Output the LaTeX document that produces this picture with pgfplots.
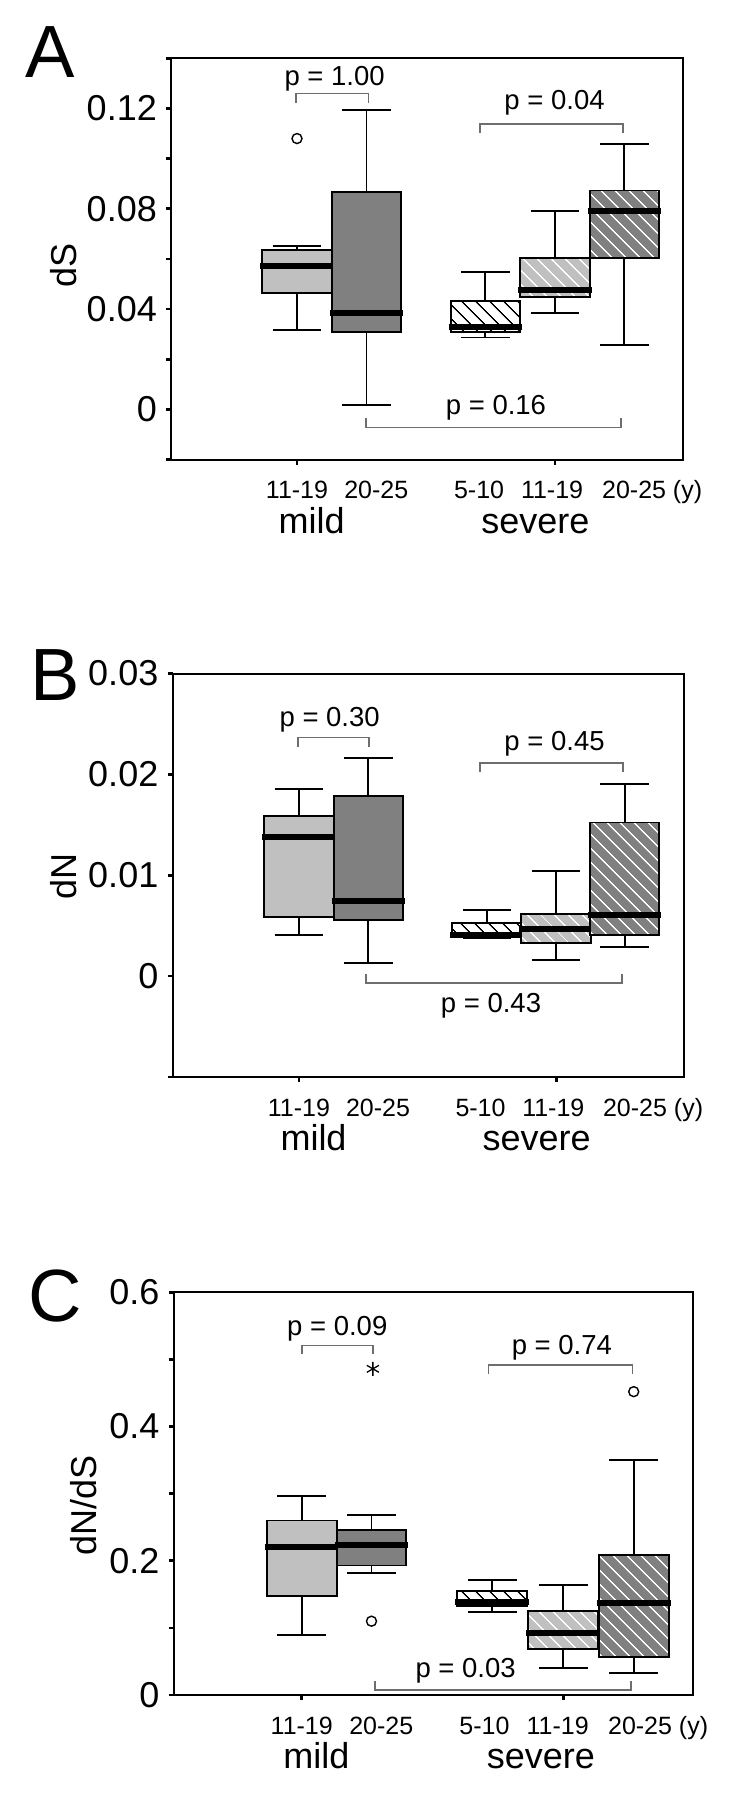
\documentclass[border=0pt]{standalone}
\usepackage{fontspec}
\setmainfont{Liberation Sans}
\usepackage{pgfplots}
\pgfplotsset{compat=1.18}
\usepgfplotslibrary{statistics}
\usetikzlibrary{patterns.meta}

\definecolor{lgray}{HTML}{C0C0C0}
\definecolor{dgray}{HTML}{808080}
\definecolor{brkgray}{HTML}{6E6E6E}

\newcommand\fs[1]{\fontsize{#1}{#1}\selectfont}

\pgfplotsset{
  panel/.style={
    scale only axis, anchor=south west, clip=false,
    axis line style={line width=2pt},
    tick align=outside, tick pos=left,
    major tick length=5pt,
    every tick/.style={black, line width=2.6pt},
    xticklabels={},
    scaled y ticks=false,
    yticklabel style={font=\fs{36}, inner sep=0pt, xshift=-9pt},
    boxplot/draw direction=y,
    boxplot/box extend=1,
    boxplot/whisker extend=0.7,
    boxplot/every median/.style={line width=6pt, shorten <=-2pt, shorten >=-2pt},
    boxplot/every whisker/.style={line width=1.9pt},
  },
  bx/.style={draw=black, line width=1.9pt, mark=*, mark size=5pt,
    mark options={fill=white, draw=black, line width=1.4pt},
    boxplot/every box/.style={fill=#1}},
  hx/.style 2 args={draw=black, line width=1.9pt, mark=*, mark size=5pt,
    mark options={fill=white, draw=black, line width=1.4pt},
    boxplot/every box/.style={fill=#1,
      postaction={pattern={Lines[angle=-45,distance=10.5pt,line width=1.5pt]}, pattern color=#2}}},
}

\tikzset{
  bracket/.style={draw=brkgray, line width=1.6pt},
  pl/.style={font=\fs{27.5}, anchor=base},
  xl/.style={font=\fs{25}, anchor=base, yshift=-39pt},
  gl/.style={font=\fs{36}, anchor=base, yshift=-73.5pt},
}

% group and age labels under an axis, #1 = ymin
\newcommand\grouplabels[1]{%
  \node[xl] at (axis cs:1,#1) {11-19};
  \node[xl] at (axis cs:2.14,#1) {20-25};
  \node[xl] at (axis cs:3.62,#1) {5-10};
  \node[xl] at (axis cs:4.67,#1) {11-19};
  \node[xl] at (axis cs:6.11,#1) {20-25 (y)};
  \node[gl] at (axis cs:1.21,#1) {mild};
  \node[gl] at (axis cs:4.43,#1) {severe};
}

\begin{document}
\begin{tikzpicture}
\useasboundingbox (0pt,0pt) rectangle (750pt,-1811pt);

% panel letters and axis titles
\node[font=\fs{74}, anchor=base west, inner sep=0pt] at (25pt,-78pt) {A};
\node[font=\fs{74}, anchor=base west, inner sep=0pt] at (30pt,-700pt) {B};
\node[font=\fs{74}, anchor=base west, inner sep=0pt] at (28pt,-1321pt) {C};
\node[font=\fs{36}, rotate=90, inner sep=0pt] at (64pt,-265pt) {dS};
\node[font=\fs{36}, rotate=90, inner sep=0pt] at (64pt,-876pt) {dN};
\node[font=\fs{36}, rotate=90, inner sep=0pt] at (84pt,-1505pt) {dN/dS};

% ---------------- A: dS
\begin{axis}[panel,
  at={(171pt,-459.6pt)}, width=512pt, height=401.3pt,
  xmin=-0.813, xmax=6.554, ymin=-0.02, ymax=0.14,
  xtick={1,4.71},
  ytick={-0.02,0,0.02,0.04,0.06,0.08,0.10,0.12,0.14},
  yticklabels={,0,,0.04,,0.08,,0.12,}]
\addplot[bx=lgray, boxplot prepared={draw position=1,
  lower whisker=0.0315, lower quartile=0.0463, median=0.057,
  upper quartile=0.0634, upper whisker=0.065}]
  table[row sep=\\, y index=0] {y\\ 0.108\\};
\addplot[bx=dgray, boxplot prepared={draw position=2,
  lower whisker=0.0017, lower quartile=0.0307, median=0.0385,
  upper quartile=0.0868, upper whisker=0.1193}] coordinates {};
\addplot[hx={white}{black}, boxplot prepared={draw position=3.71,
  lower whisker=0.0287, lower quartile=0.0307, median=0.0327,
  upper quartile=0.0432, upper whisker=0.0548}] coordinates {};
\addplot[hx={lgray}{white}, boxplot prepared={draw position=4.71,
  lower whisker=0.0385, lower quartile=0.0448, median=0.0477,
  upper quartile=0.0604, upper whisker=0.0791}] coordinates {};
\addplot[hx={dgray}{white}, boxplot prepared={draw position=5.71,
  lower whisker=0.0256, lower quartile=0.0604, median=0.079,
  upper quartile=0.0873, upper whisker=0.1058}] coordinates {};
\draw[bracket] (axis cs:0.986,0.1221) -- (axis cs:0.986,0.126) -- (axis cs:2.029,0.126) -- (axis cs:2.029,0.1221);
\draw[bracket] (axis cs:3.633,0.1104) -- (axis cs:3.633,0.1139) -- (axis cs:5.69,0.1139) -- (axis cs:5.69,0.1104);
\draw[bracket] (axis cs:1.993,-0.0034) -- (axis cs:1.993,-0.0072) -- (axis cs:5.662,-0.0072) -- (axis cs:5.662,-0.0034);
\node[pl] at (axis cs:1.541,0.1292) {p = 1.00};
\node[pl] at (axis cs:4.706,0.1195) {p = 0.04};
\node[pl] at (axis cs:3.863,-0.0021) {p = 0.16};
\grouplabels{-0.02}
\end{axis}

% ---------------- B: dN
\begin{axis}[panel,
  at={(172.5pt,-1077pt)}, width=511.5pt, height=403.5pt,
  xmin=-0.825, xmax=6.556, ymin=-0.01, ymax=0.03,
  xtick={1,4.72},
  ytick={-0.01,0,0.01,0.02,0.03},
  yticklabels={,0,0.01,0.02,0.03}]
\addplot[bx=lgray, boxplot prepared={draw position=1,
  lower whisker=0.0041, lower quartile=0.0059, median=0.01384,
  upper quartile=0.0159, upper whisker=0.01857}] coordinates {};
\addplot[bx=dgray, boxplot prepared={draw position=2,
  lower whisker=0.0013, lower quartile=0.00554, median=0.00747,
  upper quartile=0.01784, upper whisker=0.0216}] coordinates {};
\addplot[hx={white}{black}, boxplot prepared={draw position=3.71,
  lower whisker=0.0038, lower quartile=0.0039, median=0.0041,
  upper quartile=0.0053, upper whisker=0.0066}] coordinates {};
\addplot[hx={lgray}{white}, boxplot prepared={draw position=4.71,
  lower whisker=0.0016, lower quartile=0.00325, median=0.00468,
  upper quartile=0.00619, upper whisker=0.01046}] coordinates {};
\addplot[hx={dgray}{white}, boxplot prepared={draw position=5.70,
  lower whisker=0.0029, lower quartile=0.0041, median=0.00606,
  upper quartile=0.01523, upper whisker=0.01905}] coordinates {};
\draw[bracket] (axis cs:0.986,0.02272) -- (axis cs:0.986,0.02366) -- (axis cs:2.01,0.02366) -- (axis cs:2.01,0.02272);
\draw[bracket] (axis cs:3.61,0.02026) -- (axis cs:3.61,0.0211) -- (axis cs:5.675,0.0211) -- (axis cs:5.675,0.02026);
\draw[bracket] (axis cs:1.967,0.0002) -- (axis cs:1.967,-0.00068) -- (axis cs:5.66,-0.00068) -- (axis cs:5.66,0.0002);
\node[pl] at (axis cs:1.443,0.02472) {p = 0.30};
\node[pl] at (axis cs:4.688,0.02234) {p = 0.45};
\node[pl] at (axis cs:3.771,-0.00362) {p = 0.43};
\grouplabels{-0.01}
\end{axis}

% ---------------- C: dN/dS
\begin{axis}[panel,
  at={(173.5pt,-1695pt)}, width=519.5pt, height=402.7pt,
  xmin=-0.839, xmax=6.61, ymin=0, ymax=0.6,
  xtick={1,4.75},
  ytick={0,0.1,0.2,0.3,0.4,0.5,0.6},
  yticklabels={0,,0.2,,0.4,,0.6}]
\addplot[bx=lgray, boxplot prepared={draw position=1,
  lower whisker=0.089, lower quartile=0.148, median=0.22,
  upper quartile=0.26, upper whisker=0.296}] coordinates {};
\addplot[bx=dgray, boxplot prepared={draw position=2,
  lower whisker=0.182, lower quartile=0.193, median=0.223,
  upper quartile=0.246, upper whisker=0.268}]
  table[row sep=\\, y index=0] {y\\ 0.11\\};
\addplot[only marks, mark=asterisk, mark size=7pt, black, line width=1.3pt]
  coordinates {(2.02,0.486)};
\addplot[hx={white}{black}, boxplot prepared={draw position=3.73,
  lower whisker=0.124, lower quartile=0.132, median=0.139,
  upper quartile=0.155, upper whisker=0.172}] coordinates {};
\addplot[hx={lgray}{white}, boxplot prepared={draw position=4.75,
  lower whisker=0.040, lower quartile=0.068, median=0.092,
  upper quartile=0.125, upper whisker=0.164}] coordinates {};
\addplot[hx={dgray}{white}, boxplot prepared={draw position=5.76,
  lower whisker=0.033, lower quartile=0.056, median=0.137,
  upper quartile=0.209, upper whisker=0.35}]
  table[row sep=\\, y index=0] {y\\ 0.452\\};
\draw[bracket] (axis cs:1.0,0.508) -- (axis cs:1.0,0.5207) -- (axis cs:2.02,0.5207) -- (axis cs:2.02,0.508);
\draw[bracket] (axis cs:3.68,0.4776) -- (axis cs:3.68,0.4919) -- (axis cs:5.745,0.4919) -- (axis cs:5.745,0.4776);
\draw[bracket] (axis cs:2.047,0.0213) -- (axis cs:2.047,0.0075) -- (axis cs:5.717,0.0075) -- (axis cs:5.717,0.0213);
\node[pl] at (axis cs:1.509,0.5351) {p = 0.09};
\node[pl] at (axis cs:4.73,0.508) {p = 0.74};
\node[pl] at (axis cs:3.35,0.0259) {p = 0.03};
\grouplabels{0}
\end{axis}
\end{tikzpicture}
\end{document}
